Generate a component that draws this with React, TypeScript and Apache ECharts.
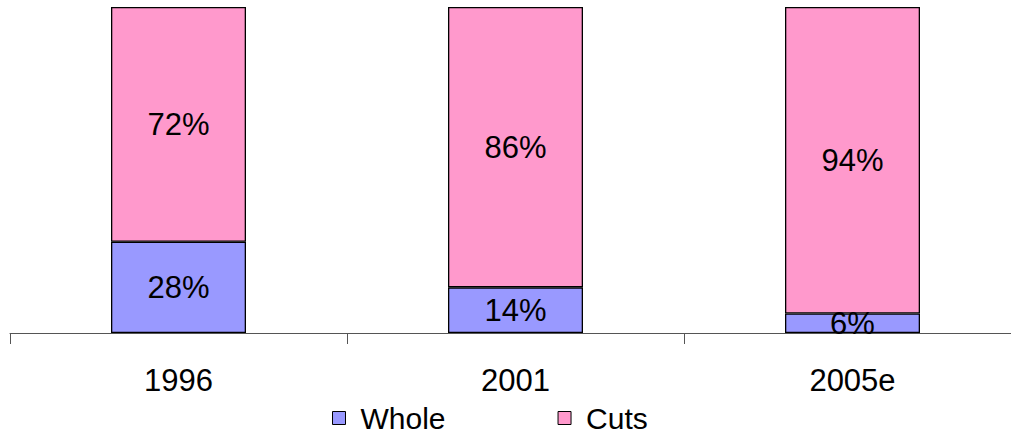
import React, { useEffect, useRef } from "react";
import * as echarts from "echarts";

const categories = ["1996", "2001", "2005e"];
const wholeValues = [28, 14, 6];
const cutsValues = [72, 86, 94];

export default function App() {
  const ref = useRef<HTMLDivElement>(null);
  useEffect(() => {
    const chart = echarts.init(ref.current!, null, { renderer: "svg" });
    const font = "Liberation Sans, Arial, sans-serif";
    const label = {
      show: true,
      position: "inside",
      formatter: "{c}%",
      color: "#000",
      fontSize: 31,
      fontFamily: font,
    };
    chart.setOption({
      animation: false,
      grid: { left: 10, top: 7, right: 0, bottom: 102, containLabel: false },
      legend: {
        top: 403,
        left: 332,
        padding: 0,
        itemWidth: 13,
        itemHeight: 13,
        itemGap: 112,
        icon: "rect",
        textStyle: { fontSize: 30, fontFamily: font, color: "#000", padding: [0, 0, 0, 10] },
        data: [
          { name: "Whole", itemStyle: { borderColor: "#000", borderWidth: 1 } },
          { name: "Cuts", itemStyle: { borderColor: "#000", borderWidth: 1 } },
        ],
      },
      xAxis: {
        type: "category",
        data: categories,
        axisLine: { lineStyle: { color: "#555", width: 1 } },
        axisTick: { show: true, length: 11, lineStyle: { color: "#555" } },
        axisLabel: { margin: 32, fontSize: 31, fontFamily: font, color: "#000" },
      },
      yAxis: {
        type: "value",
        min: 0,
        max: 100,
        show: false,
      },
      series: [
        {
          name: "Whole",
          type: "bar",
          stack: "total",
          data: wholeValues,
          barWidth: 135,
          itemStyle: { color: "#9999FF", borderColor: "#000", borderWidth: 1.3 },
          label,
        },
        {
          name: "Cuts",
          type: "bar",
          stack: "total",
          data: cutsValues,
          barWidth: 135,
          itemStyle: { color: "#FF99CC", borderColor: "#000", borderWidth: 1.3 },
          label,
        },
      ],
    });
    return () => chart.dispose();
  }, []);
  return (
    <div
      style={{
        position: "absolute",
        left: 0,
        top: 0,
        width: 1011,
        height: 435,
        overflow: "hidden",
      }}
    >
      <div ref={ref} style={{ width: 1021, height: 435 }} />
    </div>
  );
}
